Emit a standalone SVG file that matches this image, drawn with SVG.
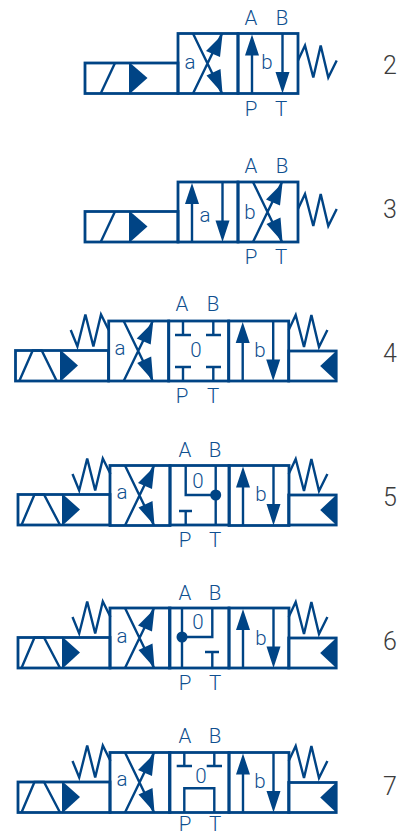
<svg xmlns="http://www.w3.org/2000/svg" width="398" height="832" viewBox="0 0 398 832">
<style>
.s{fill:none;stroke:#004485;stroke-width:2.8;stroke-linejoin:miter}
.t{stroke:#004485;stroke-width:2.4;fill:none}
.f{fill:#004485;stroke:none}
text{font-family:Roboto,"Liberation Sans",Arial,sans-serif;font-weight:300}
.l{font-size:20.500px;fill:#0f4f8f;text-anchor:middle}
.n{font-size:25px;fill:#3c3c3c;text-anchor:middle}
</style>
<defs>
<g id="cross">
<rect class="s" width="60" height="60"/>
<path class="t" d="M15 0L44 60M44 0L15 60"/>
<path class="f" d="M44.500 1L28 17.500L42 23.500ZM44.500 60L28.500 42L42.500 35.500Z"/>
</g>
<g id="para">
<rect class="s" width="60" height="60"/>
<path class="t" d="M14 60V10M44.500 0V50"/>
<path class="f" d="M14 1L21 22H7ZM44.500 60L37.500 38.500H51.500Z"/>
</g>
<g id="rspring"><path class="t" d="M0 27L7 12L15.300 44L22.700 12L30.300 44L38.700 27"/></g>
<g id="lspring"><path class="t" d="M0 9L6.700 25.500L14.700 -6.500L22.700 25.500L30.300 -6.500L38 9"/></g>
<g id="rsol"><rect class="s" x="0" y="30" width="47.500" height="30"/><path class="f" d="M48 29.500V60.500L31.500 45Z"/></g>
</defs>
<g id="connectors"></g>

<g id="valve-2">
<rect class="s" x="85" y="63" width="93" height="30.500"/>
<path class="t" d="M100.700 93.500L115 63"/>
<path class="f" d="M129 62V94.500L147.500 78Z"/>
<use href="#cross" x="178" y="33.500"/>
<use href="#para" x="238" y="33.500"/>
<use href="#rspring" x="298" y="33.500"/>
<text class="l" x="251" y="25">A</text><text class="l" x="282" y="25">B</text>
<text class="l" x="251" y="116">P</text><text class="l" x="281" y="116">T</text>
<text class="l" x="190" y="69">a</text><text class="l" x="267" y="69">b</text>
<text class="n" x="390" y="73.500">2</text>
</g>

<g id="valve-3">
<rect class="s" x="85" y="211.500" width="93" height="30.500"/>
<path class="t" d="M100.700 242L115 211.500"/>
<path class="f" d="M129 210.500V243L147.500 226.500Z"/>
<use href="#para" x="178" y="182"/>
<use href="#cross" x="238" y="182"/>
<use href="#rspring" x="298" y="182"/>
<text class="l" x="251" y="173">A</text><text class="l" x="282" y="173">B</text>
<text class="l" x="251" y="264">P</text><text class="l" x="281" y="264">T</text>
<text class="l" x="205" y="222">a</text><text class="l" x="250" y="219">b</text>
<text class="n" x="390" y="218">3</text>
</g>

<g id="valve-4">
<rect class="s" x="15.500" y="350.500" width="93" height="30.500"/>
<path class="t" d="M19.300 381L32.700 350.500H41.700L56.700 381"/>
<path class="f" d="M60 349.500V382L78 365.500Z"/>
<use href="#cross" x="108.700" y="321"/>
<rect class="s" x="168.700" y="321" width="60" height="60"/>
<use href="#para" x="228.700" y="321"/>
<use href="#rsol" x="288.700" y="321"/>
<use href="#lspring" x="70.700" y="321"/>
<use href="#rspring" x="288.700" y="303"/>
<path class="t" d="M183 321V335M175 335H191M213.300 321V335M206 335H221M183 381V367M175 367H191M213.300 381V367M206 367H221"/>
<text class="l" x="182" y="311">A</text><text class="l" x="213" y="311">B</text>
<text class="l" x="182" y="403">P</text><text class="l" x="213" y="403">T</text>
<text class="l" x="120" y="355">a</text><text class="l" x="196" y="357">0</text><text class="l" x="260" y="357">b</text>
<text class="n" x="390" y="362">4</text>
</g>

<g id="valve-5">
<rect class="s" x="18" y="494.500" width="92" height="30.500"/>
<path class="t" d="M21.500 525L34.500 494.500H44L60 525"/>
<path class="f" d="M62 493.500V526L80 509.500Z"/>
<use href="#cross" x="110" y="465.500"/>
<rect class="s" x="170" y="465.500" width="59.300" height="59.500"/>
<use href="#para" x="229" y="465.500"/>
<use href="#rsol" x="288.700" y="465"/>
<use href="#lspring" x="72.500" y="465"/>
<use href="#rspring" x="288.700" y="447"/>
<path class="t" d="M185.700 465.500V495H215.700M215.700 465.500V525M185.700 525V511M179 511H192"/>
<circle class="f" cx="215.700" cy="495" r="5.500"/>
<text class="l" x="185" y="457">A</text><text class="l" x="215" y="457">B</text>
<text class="l" x="185" y="547">P</text><text class="l" x="215" y="547">T</text>
<text class="l" x="122" y="499">a</text><text class="l" x="198" y="488">0</text><text class="l" x="261" y="501">b</text>
<text class="n" x="390" y="505.500">5</text>
</g>

<g id="valve-6">
<rect class="s" x="18" y="637.500" width="92" height="30.500"/>
<path class="t" d="M21.500 668L34.500 637.500H44L60 668"/>
<path class="f" d="M62 636.500V669L80 652.500Z"/>
<use href="#cross" x="110" y="608"/>
<rect class="s" x="169.500" y="608" width="59.500" height="60"/>
<use href="#para" x="229" y="608"/>
<use href="#rsol" x="288.700" y="608"/>
<use href="#lspring" x="72.500" y="608"/>
<use href="#rspring" x="288.700" y="590"/>
<path class="t" d="M182 608V668M182 637H212.300V608M212.300 668V652M205 652H219"/>
<circle class="f" cx="182" cy="637" r="5.500"/>
<text class="l" x="185" y="600">A</text><text class="l" x="215" y="600">B</text>
<text class="l" x="185" y="690">P</text><text class="l" x="215" y="690">T</text>
<text class="l" x="122" y="643">a</text><text class="l" x="198" y="629">0</text><text class="l" x="261" y="645">b</text>
<text class="n" x="390" y="649.500">6</text>
</g>

<g id="valve-7">
<rect class="s" x="18" y="782" width="92" height="30.500"/>
<path class="t" d="M21.500 812.500L34.500 782H44L60 812.500"/>
<path class="f" d="M62 781V813.500L80 797Z"/>
<use href="#cross" x="110" y="752.500"/>
<rect class="s" x="169.500" y="752.500" width="59.500" height="60"/>
<use href="#para" x="229" y="752.500"/>
<use href="#rsol" x="288.700" y="752.500"/>
<use href="#lspring" x="72.500" y="752"/>
<use href="#rspring" x="288.700" y="734"/>
<path class="t" d="M184.300 752.500V766M176.700 766H192M214.300 752.500V766M206.700 766H222M184.300 812.500V788.300H214.300V812.500"/>
<text class="l" x="185" y="743">A</text><text class="l" x="215" y="743">B</text>
<text class="l" x="185" y="831">P</text><text class="l" x="215" y="831">T</text>
<text class="l" x="122" y="786">a</text><text class="l" x="201" y="783">0</text><text class="l" x="260" y="788">b</text>
<text class="n" x="390" y="794.500">7</text>
</g>
</svg>
